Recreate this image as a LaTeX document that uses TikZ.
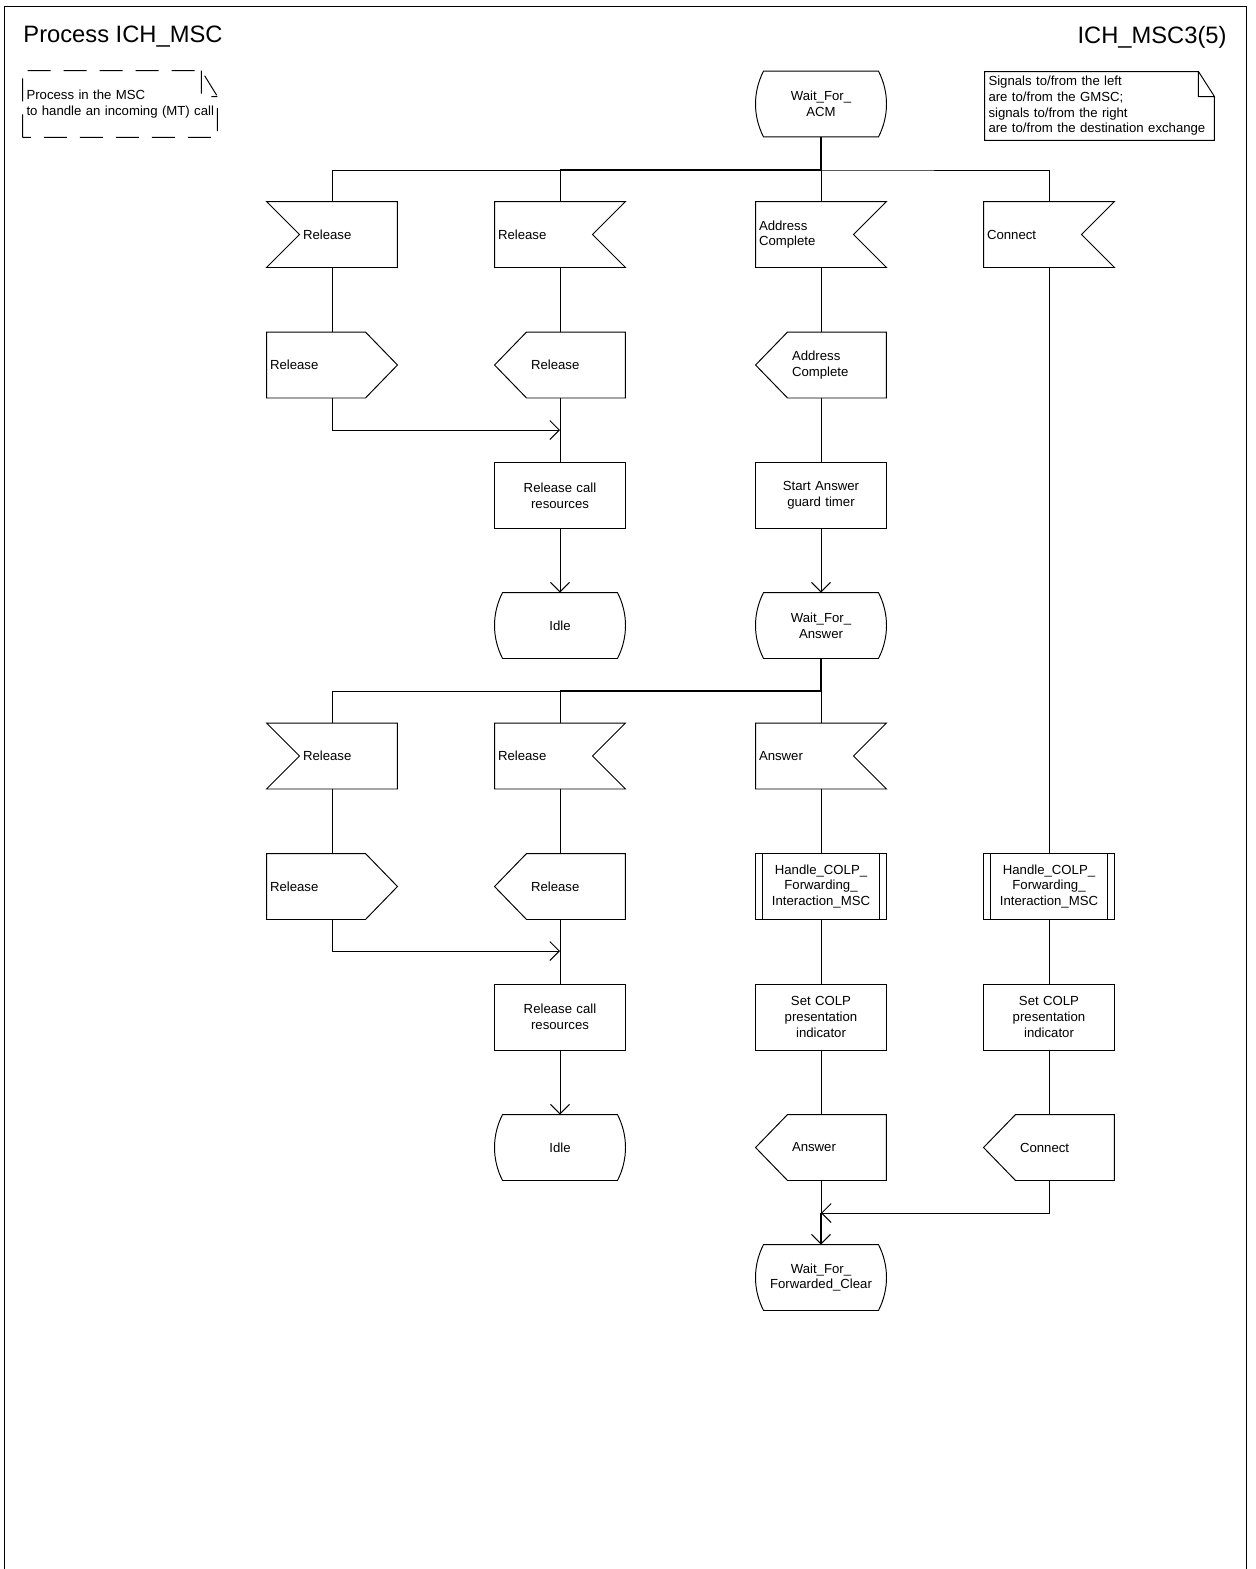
\documentclass[tikz,border=0pt]{standalone}
\usepackage{fontspec}
\setmainfont{Liberation Sans}
\usepackage{tikz}
\usetikzlibrary{calc,arrows.meta}

\tikzset{
  sym/.style={minimum width=2.6cm, minimum height=1.3cm, inner sep=0pt, text width=2.6cm},
  txl/.style={sym, align=left, execute at begin node={\leftskip=0.06cm}},
  txr/.style={sym, align=left, execute at begin node={\leftskip=0.72cm}},
  txc/.style={sym, align=center},
  textbox/.style={inner sep=0pt, align=left, execute at begin node={\leftskip=0.07cm}},
  main/.style={line width=1.1pt},
  arr/.style={-{Straight Barb[length=0.19cm, width=0.38cm, line width=0.55pt]}},
  head/.style={inner sep=0pt, font=\fontsize{13.5}{16}\selectfont}
}

\begin{document}
\begin{tikzpicture}[x=0.02cm, y=-0.02cm, line width=0.55pt, font=\fontsize{7.5}{8.9}\selectfont]
  \useasboundingbox (0,0) rectangle (1255,1569);
  \draw (4,1569) -- (4,6) -- (1246,6) -- (1246,1569);
  \node[head, anchor=west] (title) at (23,37) {Process ICH\_MSC};
  \node[head, anchor=east] (page) at (1227,37) {ICH\_MSC3(5)};

  \node[textbox, minimum width=3.88cm, minimum height=1.32cm, text width=3.88cm] (cmt) at (120,104) {Process in the MSC\\to handle an incoming (MT) call};
  \node[textbox, minimum width=4.58cm, minimum height=1.36cm, text width=4.58cm] (hint) at (1099.5,106) {Signals to/from the left\\are to/from the GMSC;\\signals to/from the right\\are to/from the destination exchange};
  \draw[dash pattern=on 0.46cm off 0.26cm] (cmt.south west) -- (cmt.north west) -- ($(cmt.north east)+(-16,0)$) -- ($(cmt.north east)+(0,26)$) -- (cmt.south east) -- cycle
    ($(cmt.north east)+(-16,0)$) |- ($(cmt.north east)+(0,26)$);
  \draw (hint.south west) -- (hint.north west) -- ($(hint.north east)+(-16,0)$) -- ($(hint.north east)+(0,25)$) -- (hint.south east) -- cycle
    ($(hint.north east)+(-16,0)$) |- ($(hint.north east)+(0,25)$);

  \node[txc] (wacm) at (821,104) {Wait\_For\_\\ACM};
  \node[txr] (rel1l) at (332,234.5) {Release};
  \node[txl] (rel1r) at (560,234.5) {Release};
  \node[txl] (acm) at (821,234.5) {Address\\Complete};
  \node[txl] (con) at (1049,234.5) {Connect};
  \node[txl] (orel1l) at (332,365) {Release};
  \node[txr] (orel1r) at (560,365) {Release};
  \node[txr] (oacm) at (821,365) {Address\\Complete};
  \node[txc] (res1) at (560,495.5) {Release call\\resources};
  \node[txc] (timer) at (821,495.5) {Start Answer\\guard timer};
  \node[txc] (idle1) at (560,625.5) {Idle};
  \node[txc] (wans) at (821,625.5) {Wait\_For\_\\Answer};
  \node[txr] (rel2l) at (332,756) {Release};
  \node[txl] (rel2r) at (560,756) {Release};
  \node[txl] (ans) at (821,756) {Answer};
  \node[txl] (orel2l) at (332,886.5) {Release};
  \node[txr] (orel2r) at (560,886.5) {Release};
  \node[txc] (hc1) at (821,886.5) {Handle\_COLP\_\\Forwarding\_\\Interaction\_MSC};
  \node[txc] (hc2) at (1049,886.5) {Handle\_COLP\_\\Forwarding\_\\Interaction\_MSC};
  \node[txc] (res2) at (560,1017) {Release call\\resources};
  \node[txc] (colp1) at (821,1017) {Set COLP\\presentation\\indicator};
  \node[txc] (colp2) at (1049,1017) {Set COLP\\presentation\\indicator};
  \node[txc] (idle2) at (560,1147.5) {Idle};
  \node[txr] (oans) at (821,1147.5) {Answer};
  \node[txr] (ocon) at (1049,1147.5) {Connect};
  \node[txc] (wfc) at (821,1277.5) {Wait\_For\_\\Forwarded\_Clear};

  \foreach \n in {rel1l,rel2l}
    \draw (\n.north west) -- (\n.north east) -- (\n.south east) -- (\n.south west) -- ($(\n.west)+(33,0)$) -- cycle;
  \foreach \n in {rel1r,acm,con,rel2r,ans}
    \draw (\n.north west) -- (\n.north east) -- ($(\n.east)+(-33,0)$) -- (\n.south east) -- (\n.south west) -- cycle;
  \foreach \n in {orel1l,orel2l}
    \draw (\n.north west) -- ($(\n.north east)+(-32,0)$) -- (\n.east) -- ($(\n.south east)+(-32,0)$) -- (\n.south west) -- cycle;
  \foreach \n in {orel1r,oacm,orel2r,oans,ocon}
    \draw (\n.west) -- ($(\n.north west)+(32,0)$) -- (\n.north east) -- (\n.south east) -- ($(\n.south west)+(32,0)$) -- cycle;
  \foreach \n in {res1,timer,res2,colp1,colp2}
    \draw (\n.north west) rectangle (\n.south east);
  \foreach \n in {hc1,hc2}
    \draw (\n.north west) rectangle (\n.south east)
      ($(\n.north west)+(6.5,0)$) -- ($(\n.south west)+(6.5,0)$)
      ($(\n.north east)+(-6.5,0)$) -- ($(\n.south east)+(-6.5,0)$);
  \foreach \n in {wacm,idle1,wans,idle2,wfc}
    \draw ($(\n.north west)+(8,0)$) -- ($(\n.north east)+(-8,0)$)
      .. controls ($(\n.east)+(2.7,-12)$) and ($(\n.east)+(2.7,12)$) .. ($(\n.south east)+(-8,0)$)
      -- ($(\n.south west)+(8,0)$)
      .. controls ($(\n.west)+(-2.7,12)$) and ($(\n.west)+(-2.7,-12)$) .. ($(\n.north west)+(8,0)$) -- cycle;

  \coordinate (b1) at (821,170);
  \coordinate (b2) at (821,691);
  \coordinate (m1) at (560,430);
  \coordinate (m2) at (560,951);
  \coordinate (m3) at (821,1213);

  \draw[main] (wacm) -- (b1) -- (rel1r.north |- b1);
  \draw (rel1l.north) |- (b1) -| (con.north);
  \draw (rel1r.north) -- (rel1r.north |- b1);
  \draw (acm) -- (b1);
  \draw (rel1l) -- (orel1l);
  \draw[arr] (orel1l) |- (m1);
  \draw (rel1r) -- (orel1r) -- (res1);
  \draw[arr] (res1) -- (idle1);
  \draw (acm) -- (oacm) -- (timer);
  \draw[arr] (timer) -- (wans);
  \draw (con) -- (hc2);

  \draw[main] (wans) -- (b2) -- (rel2r.north |- b2);
  \draw (rel2l.north) |- (b2);
  \draw (rel2r.north) -- (rel2r.north |- b2);
  \draw (ans) -- (b2);
  \draw (rel2l) -- (orel2l);
  \draw[arr] (orel2l) |- (m2);
  \draw (rel2r) -- (orel2r) -- (res2);
  \draw[arr] (res2) -- (idle2);
  \draw (ans) -- (hc1) -- (colp1) -- (oans) -- (m3);
  \draw (hc2) -- (colp2) -- (ocon);
  \draw[arr] (ocon) |- (m3);
  \draw[main, arr] (m3) -- (wfc);
\end{tikzpicture}
\end{document}
